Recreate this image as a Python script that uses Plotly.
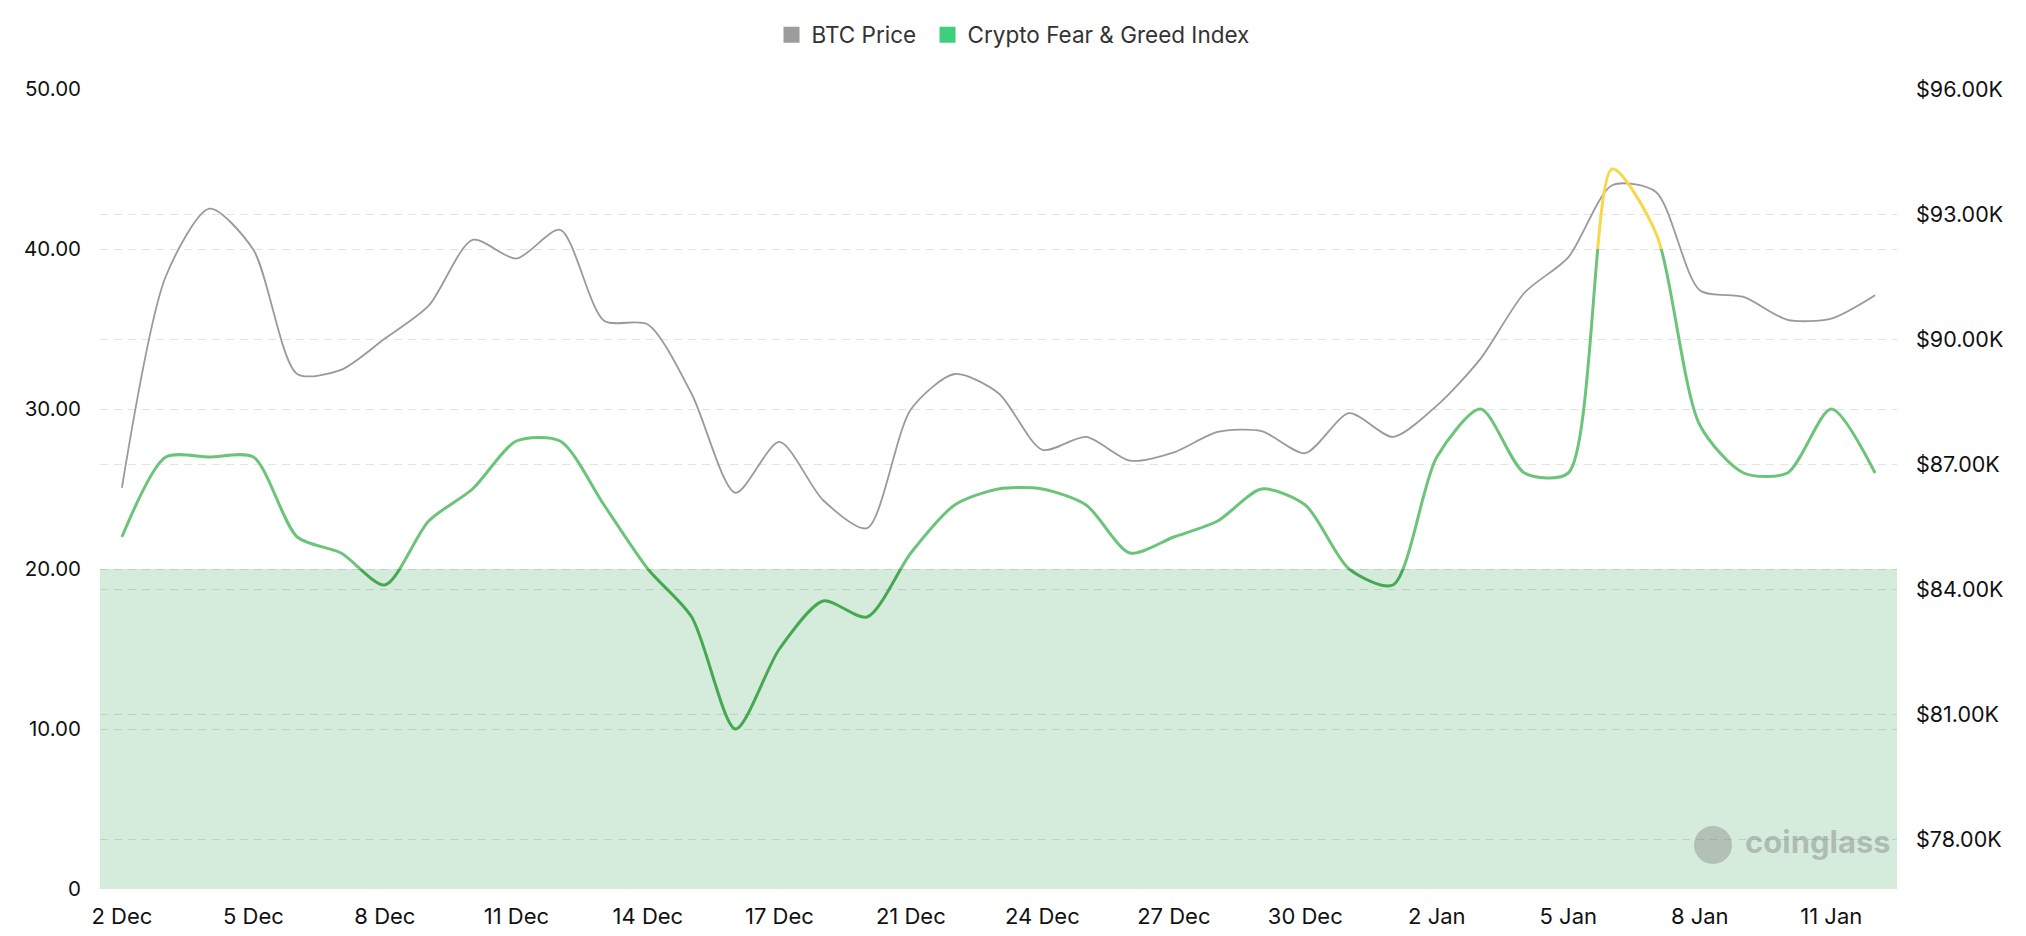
import plotly.graph_objects as go

# ---------------- data ----------------
dates = ["2 Dec", "3 Dec", "4 Dec", "5 Dec", "6 Dec", "7 Dec", "8 Dec", "9 Dec", "10 Dec",
         "11 Dec", "12 Dec", "13 Dec", "14 Dec", "15 Dec", "16 Dec", "17 Dec", "18 Dec",
         "19 Dec", "21 Dec", "22 Dec", "23 Dec", "24 Dec", "25 Dec", "26 Dec", "27 Dec",
         "28 Dec", "29 Dec", "30 Dec", "31 Dec", "1 Jan", "2 Jan", "3 Jan", "4 Jan",
         "5 Jan", "6 Jan", "7 Jan", "8 Jan", "9 Jan", "10 Jan", "11 Jan", "12 Jan"]

fear_greed = [22, 27, 27, 27, 22, 21, 19, 23, 25, 28, 28, 24, 20, 17, 10, 15, 18, 17, 21, 24,
              25, 25, 24, 21, 22, 23, 25, 24, 20, 19, 27, 30, 26, 26, 45, 41, 29, 26, 26, 30, 26]

btc_price = [86430, 91500, 93130, 92140, 89160, 89260, 90010, 90800, 92380, 91930, 92620,
             90440, 90350, 88680, 86310, 87530, 86130, 85460, 88310, 89160, 88700, 87340,
             87650, 87080, 87280, 87770, 87790, 87260, 88220, 87650, 88400, 89530, 91110,
             91960, 93690, 93530, 91170, 91010, 90460, 90490, 91050]

left_ticks = [0, 10, 20, 30, 40, 50]
left_labels = ["0", "10.00", "20.00", "30.00", "40.00", "50.00"]
right_ticks = [78000, 81000, 84000, 87000, 90000, 93000, 96000]
right_labels = ["$78.00K", "$81.00K", "$84.00K", "$87.00K", "$90.00K", "$93.00K", "$96.00K"]
x_tick_vals = dates[::3]

# colour bands of the index line: (low, high, colour)
bands = [(0, 20, "#45a950"), (20, 40, "#6cc47a"), (40, 50, "#f6d84a")]

FONT = "Inter, Roboto, Arial, sans-serif"
GRID = "rgba(0,0,0,0.11)"
SMOOTH = 0.75
TXT = "#111111"

# the page body has an 8px margin: size the figure to fit inside the window
W, H = 2010, 920

fig = go.Figure()

# BTC price (right axis)
fig.add_trace(go.Scatter(
    x=dates, y=btc_price, mode="lines", yaxis="y2",
    line=dict(color="#9a9a9a", width=1.8, shape="spline", smoothing=SMOOTH, simplify=False),
    showlegend=False, hoverinfo="skip"))

# Fear & Greed index, split into colour bands through clipped sub-axes
axis_names = ["y3", "y4", "y5"]
for (lo, hi, col), ax in zip(bands, axis_names):
    fig.add_trace(go.Scatter(
        x=dates, y=fear_greed, mode="lines", yaxis=ax,
        line=dict(color=col, width=3, shape="spline", smoothing=SMOOTH, simplify=False),
        showlegend=False, hoverinfo="skip"))

# legend entries (square swatches)
fig.add_trace(go.Scatter(x=[None], y=[None], mode="markers", name="BTC Price ",
                         marker=dict(symbol="square", size=18, color="#9c9c9c")))
fig.add_trace(go.Scatter(x=[None], y=[None], mode="markers", name="Crypto Fear & Greed Index",
                         marker=dict(symbol="square", size=18, color="#3fcf7c")))

# fear zone band (below the translucent gridlines)
fig.add_shape(type="rect", xref="x domain", yref="y", x0=0, x1=1, y0=0, y1=20,
              fillcolor="#d5ecdc", line=dict(width=0), layer="below")

total = 50.0
def dom(lo, hi):
    return [lo / total, hi / total]

fig.update_layout(
    width=W, height=H,
    margin=dict(l=92, r=121, t=81, b=39, autoexpand=False),
    paper_bgcolor="white", plot_bgcolor="rgba(0,0,0,0)",
    font=dict(family=FONT, size=20, color=TXT),
    showlegend=True,
    legend=dict(orientation="h", xref="container", yref="container",
                x=0.5, xanchor="center", y=1 - 27 / H, yanchor="middle",
                font=dict(size=22.5, color="#333"), itemclick=False, traceorder="normal"),
    xaxis=dict(type="category", categoryorder="array", categoryarray=dates, automargin=False,
               range=[-0.5, len(dates) - 0.5], tickmode="array", tickvals=x_tick_vals,
               showgrid=False, zeroline=False, showline=False, ticks="",
               ticklabelstandoff=12, tickfont=dict(size=22, color=TXT)),
    yaxis=dict(range=[0, 50], tickmode="array", tickvals=left_ticks, ticktext=left_labels,
               automargin=False,
               showgrid=True, gridcolor=GRID, griddash="8px,6px", gridwidth=1,
               zeroline=False, showline=False, ticks="", ticklabelstandoff=18,
               tickfont=dict(size=20.5, color=TXT)),
    yaxis2=dict(range=[76800, 96000], overlaying="y", side="right", tickmode="array",
                tickvals=right_ticks, ticktext=right_labels, automargin=False,
                showgrid=True, gridcolor=GRID, griddash="8px,6px", gridwidth=1,
                zeroline=False, showline=False, ticks="", ticklabelstandoff=18,
                tickfont=dict(size=21.5, color=TXT)),
    yaxis3=dict(domain=dom(*bands[0][:2]), range=list(bands[0][:2]), anchor="x", visible=False),
    yaxis4=dict(domain=dom(*bands[1][:2]), range=list(bands[1][:2]), anchor="x", visible=False),
    yaxis5=dict(domain=dom(*bands[2][:2]), range=list(bands[2][:2]), anchor="x", visible=False),
)

# watermark
fig.add_annotation(text="<b>coinglass</b>", xref="paper", yref="paper", x=0.956, y=0.06,
                   xanchor="center", yanchor="middle", showarrow=False,
                   font=dict(family=FONT, size=31, color="rgba(120,120,120,0.42)"))
fig.add_shape(type="circle", xref="paper", yref="paper",
              x0=(1694 - 100) / 1797, x1=(1732 - 100) / 1797,
              y0=(889 - 864) / 800, y1=(889 - 826) / 800,
              fillcolor="rgba(120,120,120,0.38)", line=dict(width=0))

fig.write_html("out.html")
